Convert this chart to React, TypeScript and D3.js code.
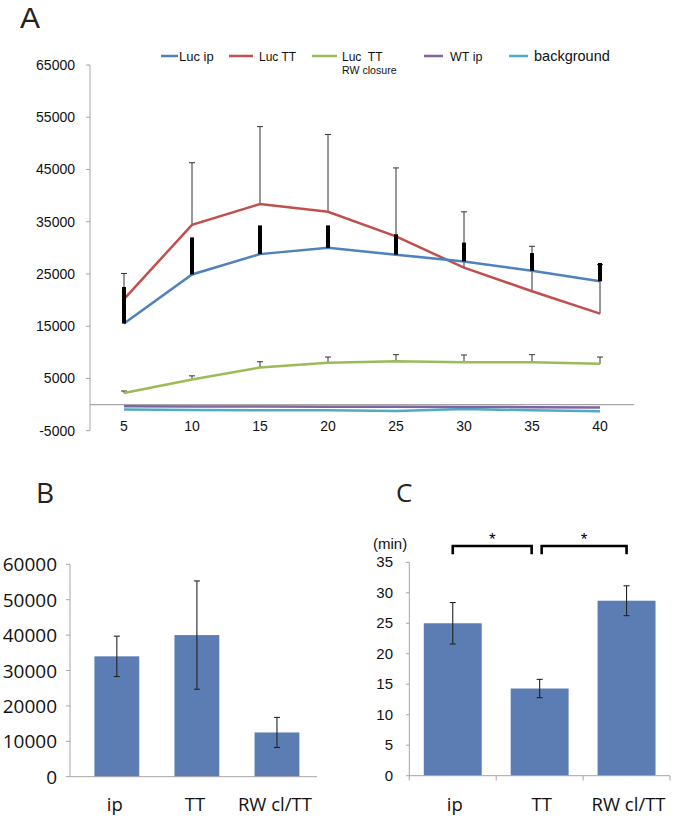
import React from "react";
import * as d3 from "d3";

// time after injection (min)
const timePoints = ["5", "10", "15", "20", "25", "30", "35", "40"];

const lucIp = [15500, 24900, 28800, 30000, 28700, 27400, 25600, 23600];
const lucIpErr = [7000, 7100, 5500, 4300, 3900, 3600, 3400, 3500];
const lucTT = [20200, 34400, 38400, 36900, 32200, 26200, 21700, 17400];
const lucTTErr = [4900, 11900, 14800, 14800, 13100, 10700, 8600, 9400];
const lucTTRw = [2200, 4800, 7100, 8000, 8300, 8100, 8100, 7800];
const lucTTRwErr = [400, 700, 1100, 1100, 1250, 1400, 1450, 1300];
const wtIp = [-300, -350, -350, -400, -400, -450, -500, -550];
const background = [-950, -1050, -1100, -1100, -1250, -850, -1100, -1300];
const aTicks = [-5000, 5000, 15000, 25000, 35000, 45000, 55000, 65000];

const groups = ["ip", "TT", "RW cl/TT"];
const peakValues = [34000, 40000, 12500];
const peakErr = [5700, 15300, 4250];
const bTicks = [0, 10000, 20000, 30000, 40000, 50000, 60000];

const onsetMin = [25, 14.3, 28.7];
const onsetErr = [3.4, 1.5, 2.45];
const cTicks = [0, 5, 10, 15, 20, 25, 30, 35];

const COL = {
  blue: "#4f81bd",
  red: "#c0504d",
  green: "#9bbb59",
  purple: "#8064a2",
  aqua: "#4bacc6",
  bar: "#5b7db4",
  axis: "#a6a6a6",
};

const arial = "'Liberation Sans', Arial, sans-serif";
const open = "'Open Sans', 'Liberation Sans', sans-serif";

const PanelA = () => {
  const x = d3.scaleBand().domain(timePoints).range([90, 634]);
  const y = d3.scaleLinear().domain([-5000, 65000]).range([430.7, 65]);
  const cx = (t: string) => x(t)! + x.bandwidth() / 2;
  const line = (vals: number[]) =>
    d3.line<number>().x((_, i) => cx(timePoints[i])).y((v) => y(v))(vals)!;

  const thinErr = (vals: number[], errs: number[], key: string) =>
    vals.map((v, i) => {
      const px = cx(timePoints[i]);
      const top = y(v + errs[i]);
      return (
        <g key={key + i} stroke="#333" strokeWidth={1}>
          <line x1={px} x2={px} y1={y(v)} y2={top} />
          <line x1={px - 3} x2={px + 3} y1={top} y2={top} />
        </g>
      );
    });

  const legend = [
    { label: "Luc ip", color: COL.blue, x1: 161, x2: 178, tx: 179, size: 13 },
    { label: "Luc TT", color: COL.red, x1: 229, x2: 253, tx: 259, size: 12 },
    { label: "Luc  TT", color: COL.green, x1: 312, x2: 337, tx: 342, size: 12 },
    { label: "WT ip", color: COL.purple, x1: 424, x2: 443, tx: 450, size: 12.5 },
    { label: "background", color: COL.aqua, x1: 509, x2: 528, tx: 534, size: 14.5 },
  ];

  return (
    <g>
      <text x={20} y={28} fontSize={30} fontFamily={arial} fill="#222">A</text>

      {legend.map((d) => (
        <g key={d.label}>
          <line x1={d.x1} x2={d.x2} y1={56} y2={56} stroke={d.color} strokeWidth={2.5} />
          <text x={d.tx} y={61} fontSize={d.size} fontFamily={arial} fill="#111"
            style={{ whiteSpace: "pre" }}>{d.label}</text>
        </g>
      ))}
      <text x={342} y={74} fontSize={10.6} fontFamily={arial} fill="#111">RW closure</text>

      {/* y axis */}
      <line x1={90} x2={90} y1={65} y2={430.7} stroke={COL.axis} />
      {aTicks.map((t) => (
        <g key={t}>
          <line x1={86} x2={90} y1={y(t)} y2={y(t)} stroke={COL.axis} />
          <text x={75} y={y(t) + 5} textAnchor="end" fontSize={14} fontFamily={arial} fill="#111">{t}</text>
        </g>
      ))}
      {/* zero line / x axis */}
      <line x1={90} x2={634} y1={y(0)} y2={y(0)} stroke={COL.axis} strokeWidth={1.3} />
      {timePoints.map((t) => (
        <text key={t} x={cx(t)} y={431} textAnchor="middle" fontSize={14} fontFamily={arial} fill="#111">{t}</text>
      ))}

      {thinErr(lucTT, lucTTErr, "tt")}
      {thinErr(lucTTRw, lucTTRwErr, "rw")}

      <path d={line(background)} fill="none" stroke={COL.aqua} strokeWidth={2.5} />
      <path d={line(wtIp)} fill="none" stroke={COL.purple} strokeWidth={2.5} />
      <path d={line(lucTTRw)} fill="none" stroke={COL.green} strokeWidth={2.5} />
      <path d={line(lucTT)} fill="none" stroke={COL.red} strokeWidth={2.5} />
      <path d={line(lucIp)} fill="none" stroke={COL.blue} strokeWidth={2.5} />

      {lucIp.map((v, i) => {
        const px = cx(timePoints[i]);
        return (
          <line key={"ip" + i} x1={px} x2={px} y1={y(v)} y2={y(v + lucIpErr[i])}
            stroke="#000" strokeWidth={4} />
        );
      })}
    </g>
  );
};

const PanelB = () => {
  const x = d3.scaleBand().domain(groups).range([76.8, 317]).paddingInner(0.44).paddingOuter(0.22);
  const y = d3.scaleLinear().domain([0, 60000]).range([776.7, 564.3]);
  return (
    <g>
      <text x={36} y={503} fontSize={28} fontFamily={open} fill="#222">B</text>
      {groups.map((g, i) => (
        <rect key={g} x={x(g)} y={y(peakValues[i])} width={x.bandwidth()}
          height={y(0) - y(peakValues[i])} fill={COL.bar} />
      ))}
      {groups.map((g, i) => {
        const px = x(g)! + x.bandwidth() / 2;
        const hi = y(peakValues[i] + peakErr[i]);
        const lo = y(peakValues[i] - peakErr[i]);
        return (
          <g key={g + "e"} stroke="#222" strokeWidth={1.1}>
            <line x1={px} x2={px} y1={hi} y2={lo} />
            <line x1={px - 3} x2={px + 3} y1={hi} y2={hi} />
            <line x1={px - 3} x2={px + 3} y1={lo} y2={lo} />
          </g>
        );
      })}
      <line x1={70} x2={70} y1={564.3} y2={776.7} stroke={COL.axis} />
      <line x1={70} x2={317} y1={776.7} y2={776.7} stroke={COL.axis} />
      {bTicks.map((t) => (
        <g key={t}>
          <line x1={66} x2={70} y1={y(t)} y2={y(t)} stroke={COL.axis} />
          <text x={57} y={y(t) + 7} textAnchor="end" fontSize={19} fontFamily={open} fill="#111">{t}</text>
        </g>
      ))}
      {groups.map((g) => (
        <text key={g + "l"} x={x(g)! + x.bandwidth() / 2 - 2} y={811} textAnchor="middle"
          fontSize={18.5} fontFamily={open} fill="#111">{g}</text>
      ))}
    </g>
  );
};

const PanelC = () => {
  const x = d3.scaleBand().domain(groups).range([409.3, 670]).paddingInner(1 / 3).paddingOuter(1 / 6);
  const y = d3.scaleLinear().domain([0, 35]).range([775.7, 562.3]);
  const mid = (g: string) => x(g)! + x.bandwidth() / 2;
  const brackets = [
    { x1: mid("ip"), x2: mid("TT") - 8 },
    { x1: mid("TT") + 2, x2: mid("RW cl/TT") },
  ];
  return (
    <g>
      <text x={396} y={502} fontSize={26} fontFamily={open} fill="#222">C</text>
      {groups.map((g, i) => (
        <rect key={g} x={x(g)} y={y(onsetMin[i])} width={x.bandwidth()}
          height={y(0) - y(onsetMin[i])} fill={COL.bar} />
      ))}
      {groups.map((g, i) => {
        const px = mid(g);
        const hi = y(onsetMin[i] + onsetErr[i]);
        const lo = y(onsetMin[i] - onsetErr[i]);
        return (
          <g key={g + "e"} stroke="#222" strokeWidth={1.1}>
            <line x1={px} x2={px} y1={hi} y2={lo} />
            <line x1={px - 3} x2={px + 3} y1={hi} y2={hi} />
            <line x1={px - 3} x2={px + 3} y1={lo} y2={lo} />
          </g>
        );
      })}
      <line x1={409.3} x2={409.3} y1={562.3} y2={775.7} stroke={COL.axis} />
      <line x1={409.3} x2={670} y1={775.7} y2={775.7} stroke={COL.axis} />
      {[0, 1, 2, 3].map((k) => {
        const px = 409.3 + k * x.step();
        return <line key={k} x1={px} x2={px} y1={775.7} y2={780.5} stroke={COL.axis} />;
      })}
      {cTicks.map((t) => (
        <g key={t}>
          <line x1={406} x2={409.3} y1={y(t)} y2={y(t)} stroke={COL.axis} />
          <text x={393} y={y(t) + 5} textAnchor="end" fontSize={15} fontFamily={arial} fill="#111">{t}</text>
        </g>
      ))}
      <text x={373} y={549} fontSize={15} fontFamily={arial} fill="#111">(min)</text>
      {brackets.map((b, i) => (
        <g key={"br" + i}>
          <path d={`M${b.x1},554.3 V546 H${b.x2} V554.3`} fill="none" stroke="#000" strokeWidth={2.6} />
          <text x={(b.x1 + b.x2) / 2} y={545} textAnchor="middle" fontSize={17} fontFamily={arial} fill="#000">*</text>
        </g>
      ))}
      {groups.map((g) => (
        <text key={g + "l"} x={mid(g) + 2} y={811} textAnchor="middle"
          fontSize={18.5} fontFamily={open} fill="#111">{g}</text>
      ))}
    </g>
  );
};

export default function App() {
  return (
    <div style={{ position: "absolute", left: 0, top: 0 }}>
      <svg width={675} height={823} style={{ display: "block", background: "#fff" }}>
        <PanelA />
        <PanelB />
        <PanelC />
      </svg>
    </div>
  );
}
